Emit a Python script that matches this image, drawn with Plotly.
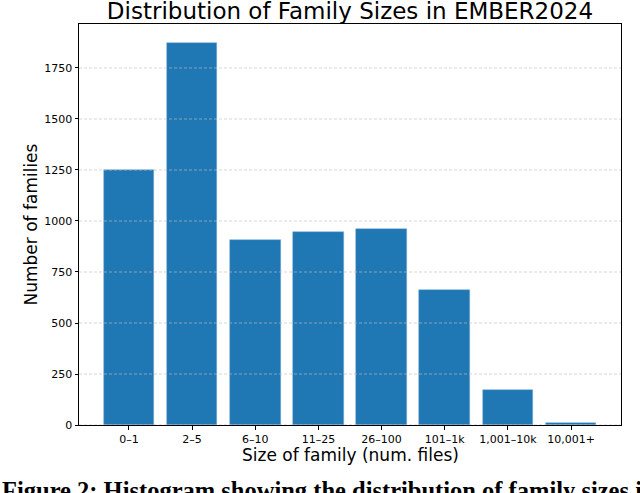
import plotly.graph_objects as go

categories = ["0–1", "2–5", "6–10", "11–25", "26–100", "101–1k", "1,001–10k", "10,001+"]
counts = [1252, 1872, 907, 944, 959, 663, 172, 10]
y_ticks = [0, 250, 500, 750, 1000, 1250, 1500, 1750]

title_text = "Distribution of Family Sizes in EMBER2024"
x_label = "Size of family (num. files)"
y_label = "Number of families"
caption = "Figure 2: Histogram showing the distribution of family sizes in EMBER2024"

W, H = 640, 493
L, R, T, B = 79, 19, 24, 68
pw = W - L - R
ph = H - T - B

fig = go.Figure()
fig.add_trace(go.Bar(
    x=list(range(len(categories))),
    y=counts,
    width=0.8,
    marker=dict(color="#1f77b4", line=dict(color="rgba(120,170,215,0.8)", width=0.6)),
    hoverinfo="skip",
))

ymax = max(counts) * 1.05
n = len(categories)
xpad = 0.39

shapes = []
for t in y_ticks:
    shapes.append(dict(type="line", xref="paper", yref="y", x0=0, x1=1, y0=t, y1=t,
                       line=dict(color="rgba(190,190,190,0.8)", width=0.8, dash="3px,2px"),
                       layer="above"))

fig.update_layout(
    width=W, height=H,
    margin=dict(l=L, r=R, t=T, b=B, pad=0),
    paper_bgcolor="white", plot_bgcolor="white",
    showlegend=False,
    bargap=0,
    font=dict(family="DejaVu Sans", color="black"),
    title=dict(text=title_text, font=dict(family="DejaVu Sans", size=23, color="black"),
               x=(L + pw / 2) / W, xanchor="center", y=1 - 11 / H, yanchor="middle",
               xref="container", yref="container"),
    xaxis=dict(
        tickmode="array", tickvals=list(range(n)), ticktext=categories,
        range=[-0.4 - xpad, n - 1 + 0.4 + xpad],
        showgrid=False, zeroline=False,
        showline=True, mirror=True, linecolor="black", linewidth=1,
        ticks="outside", ticklen=3.5, tickwidth=0.8, tickcolor="black",
        tickfont=dict(family="DejaVu Sans", size=11, color="black"),
    ),
    yaxis=dict(
        tickmode="array", tickvals=y_ticks, ticktext=[str(v) for v in y_ticks],
        range=[0, ymax],
        showgrid=False, zeroline=False,
        showline=True, mirror=True, linecolor="black", linewidth=1,
        ticks="outside", ticklen=3.5, tickwidth=0.8, tickcolor="black",
        tickfont=dict(family="DejaVu Sans", size=11, color="black"),
    ),
    shapes=shapes,
    annotations=[
        dict(text=x_label, xref="paper", yref="paper", x=0.5, y=-(455 - (H - B)) / ph,
             xanchor="center", yanchor="middle", showarrow=False,
             font=dict(family="DejaVu Sans", size=17, color="black")),
        dict(text=y_label, xref="paper", yref="paper", x=(30 - L) / pw, y=0.5,
             xanchor="center", yanchor="middle", textangle=-90, showarrow=False,
             font=dict(family="DejaVu Sans", size=17, color="black")),
        dict(text="<b>" + caption + "</b>", xref="paper", yref="paper",
             x=-L / pw, y=-(475 - (H - B)) / ph, xanchor="left", yanchor="top",
             showarrow=False, font=dict(family="Liberation Serif", size=24.5, color="black")),
    ],
)

fig.write_html("out.html", config={"displayModeBar": False},
               post_script="document.body.style.margin='0';")
